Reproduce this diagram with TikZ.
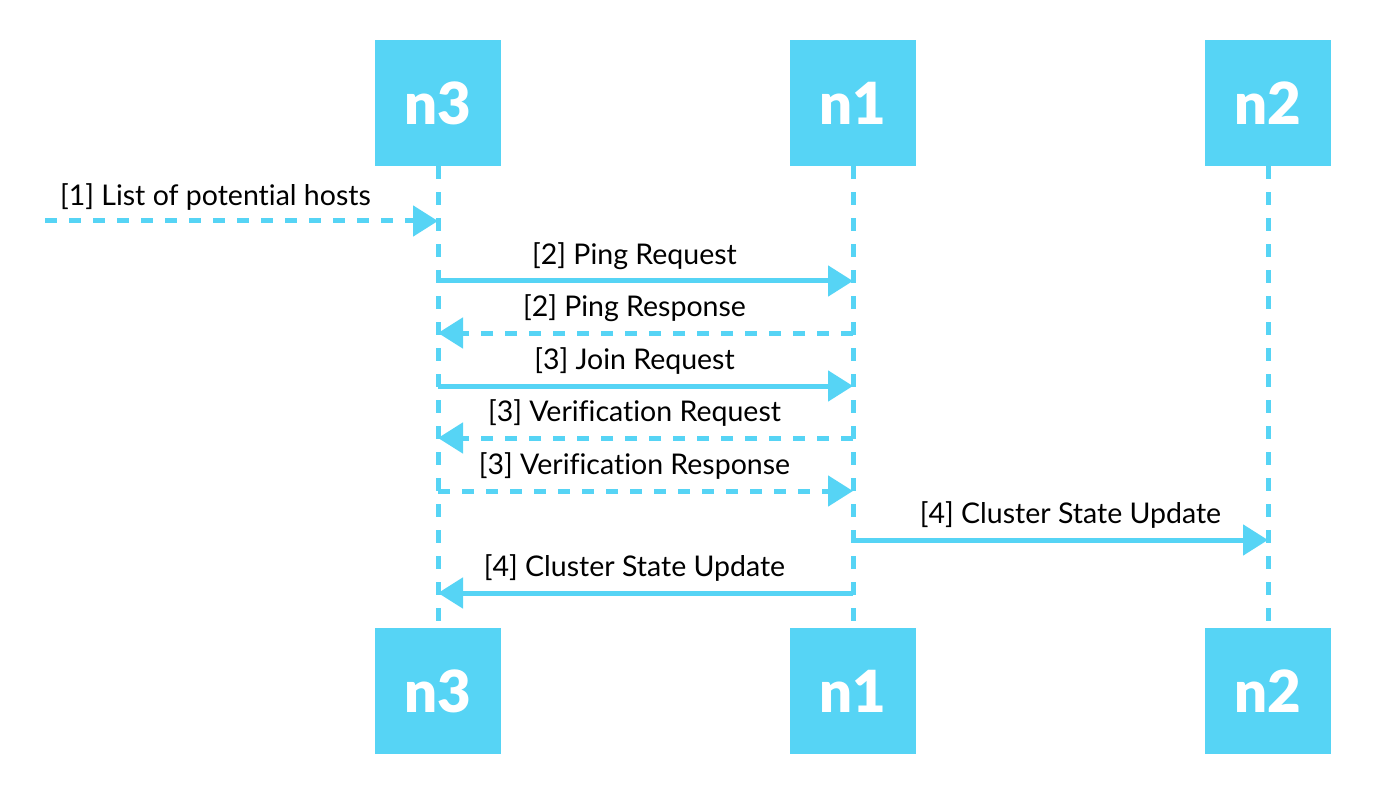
\documentclass[tikz,border=0pt]{standalone}
\usepackage{fontspec}
\setmainfont{Lato}[Ligatures={NoCommon}]
\newfontfamily\heavy{Lato Black}
\usetikzlibrary{arrows.meta}
\definecolor{sky}{RGB}{86,212,245}
\begin{document}
\begin{tikzpicture}[x=1pt,y=-1pt,
  actor/.style={fill=sky,minimum width=126pt,minimum height=126pt,inner sep=0pt,
    text=white,font=\fontsize{58}{64}\heavy},
  life/.style={draw=sky,line width=5pt,dash pattern=on 13pt off 13pt},
  msg/.style={draw=sky,line width=5pt,-{Triangle[length=25pt,width=30pt]}},
  dmsg/.style={msg,dash pattern=on 12pt off 12pt},
  lbl/.style={font=\fontsize{28.5}{32}\selectfont,text=black,inner sep=0pt}]
\useasboundingbox (0,0) rectangle (1392,794);
\node[actor] (n3t) at (438,103) {n3};
\node[actor] (n1t) at (853,103) {n1};
\node[actor] (n2t) at (1268,103) {n2};
\node[actor] (n3b) at (438,691) {n3};
\node[actor] (n1b) at (853,691) {n1};
\node[actor] (n2b) at (1268,691) {n2};
\draw[life] (n3t.south) -- (n3b.north);
\draw[life] (n1t.south) -- (n1b.north);
\draw[life] (n2t.south) -- (n2b.north);
\coordinate (start) at (45,221);
\foreach \y/\k in {221/1,281/2,333/3,386/4,438/5,491/6,540/7,593/8}{
  \coordinate (a\k) at (438,\y);
  \coordinate (b\k) at (853,\y);
  \coordinate (c\k) at (1268,\y);
}
\draw[dmsg] (start) -- (a1) node[lbl,midway,above=8pt,xshift=-26pt] {[1] List of potential hosts};
\draw[msg] (a2) -- (b2) node[lbl,midway,above=9pt,xshift=-11pt] {[2] Ping Request};
\draw[dmsg] (b3) -- (a3) node[lbl,midway,above=9pt,xshift=-11pt] {[2] Ping Response};
\draw[msg] (a4) -- (b4) node[lbl,midway,above=9pt,xshift=-11pt] {[3] Join Request};
\draw[dmsg] (b5) -- (a5) node[lbl,midway,above=9pt,xshift=-11pt] {[3] Verification Request};
\draw[dmsg] (a6) -- (b6) node[lbl,midway,above=9pt,xshift=-11pt] {[3] Verification Response};
\draw[msg] (b7) -- (c7) node[lbl,midway,above=9pt,xshift=10pt] {[4] Cluster State Update};
\draw[msg] (b8) -- (a8) node[lbl,midway,above=9pt,xshift=-11pt] {[4] Cluster State Update};
\end{tikzpicture}
\end{document}
